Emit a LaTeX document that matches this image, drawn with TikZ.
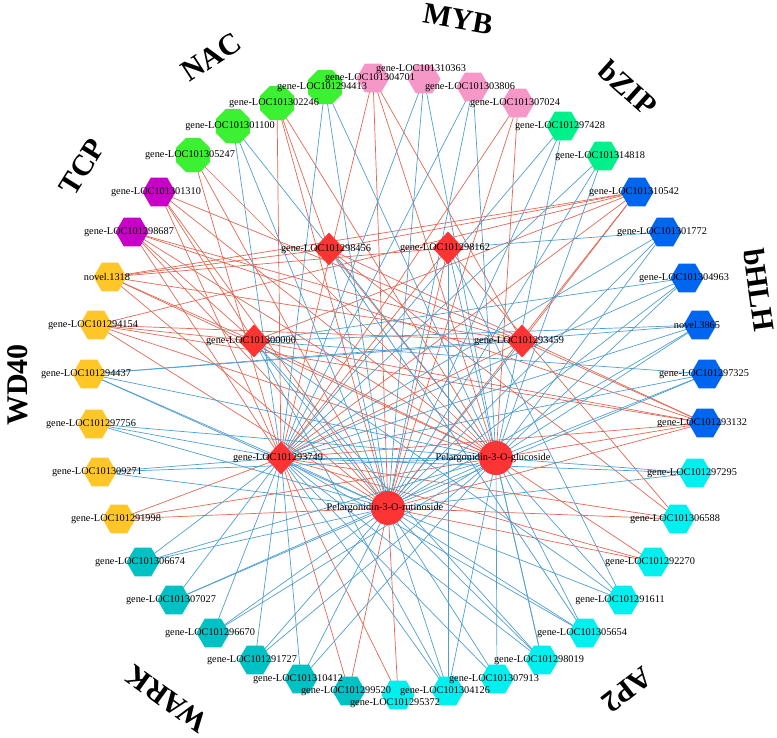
\documentclass[tikz,border=0pt]{standalone}
\usepackage{fontspec}
\setmainfont{Liberation Serif}
\usetikzlibrary{shapes.geometric,backgrounds}

\definecolor{hubred}{RGB}{252,52,52}
\definecolor{negred}{RGB}{226,104,84}
\definecolor{posblue}{RGB}{80,158,210}
\definecolor{nacc}{RGB}{60,240,50}
\definecolor{tcpc}{RGB}{200,0,200}
\definecolor{mybc}{RGB}{245,152,200}
\definecolor{bzipc}{RGB}{0,240,140}
\definecolor{bhlhc}{RGB}{0,102,240}
\definecolor{aptwoc}{RGB}{0,240,240}
\definecolor{warkc}{RGB}{0,194,196}
\definecolor{wdc}{RGB}{255,198,40}

\begin{document}
\begin{tikzpicture}[x=1pt,y=-1pt,
  hexa/.style={regular polygon,regular polygon sides=6,minimum size=33pt,inner sep=0pt},
  octa/.style={regular polygon,regular polygon sides=8,minimum size=37pt,inner sep=0pt,fill=nacc},
  gene node/.style={diamond,fill=hubred,minimum width=31pt,minimum height=33pt,inner sep=0pt},
  met node/.style={circle,fill=hubred,minimum size=34pt,inner sep=0pt},
  lbl/.style={font=\fontsize{10.3}{12}\selectfont,inner sep=0pt,xshift=-3pt},
  fam/.style={font=\fontsize{30}{36}\selectfont\bfseries,inner sep=0pt},
  neglink/.style={draw=negred,line width=0.7pt},
  poslink/.style={draw=posblue,line width=0.7pt}]

  \useasboundingbox (0,0) rectangle (777,737);

  % family titles
  \node[fam,rotate=33] (tnac) at (211,57) {NAC};
  \node[fam,rotate=-10] (tmyb) at (458,19) {MYB};
  \node[fam,rotate=-42] (tbzip) at (628,88) {bZIP};
  \node[fam,rotate=-82] (tbhlh) at (759,290) {bHLH};
  \node[fam,rotate=218] (tap) at (627,690) {AP2};
  \node[fam,rotate=144] (twark) at (167,699) {WARK};
  \node[fam,rotate=90] (twd) at (18,385) {WD40};
  \node[fam,rotate=58] (ttcp) at (82,167) {TCP};

  % inner genes and metabolites
  \node[gene node] (d456) at (329,249) {};
  \node[gene node] (d162) at (448,248) {};
  \node[gene node] (d000) at (254,341) {};
  \node[gene node] (d459) at (522,341) {};
  \node[gene node] (d749) at (281,458) {};
  \node[met node] (glu) at (496,458) {};
  \node[met node] (rut) at (388,508) {};

  % NAC
  \node[octa] (g4413) at (325,87) {};
  \node[octa] (g2246) at (277,103) {};
  \node[octa] (g1100) at (233,126) {};
  \node[octa] (g5247) at (193,155) {};
  % TCP
  \node[hexa,fill=tcpc] (g1310) at (159,192) {};
  \node[hexa,fill=tcpc] (g8687) at (132,232) {};
  % WD40
  \node[hexa,fill=wdc] (nv1318) at (110,277) {};
  \node[hexa,fill=wdc] (g4154) at (96,325) {};
  \node[hexa,fill=wdc] (g4437) at (89,374) {};
  \node[hexa,fill=wdc] (g7756) at (94,424) {};
  \node[hexa,fill=wdc] (g9271) at (100,472) {};
  \node[hexa,fill=wdc] (g1998) at (119,519) {};
  % WARK
  \node[hexa,fill=warkc] (g6674) at (143,562) {};
  \node[hexa,fill=warkc] (g7027) at (174,600) {};
  \node[hexa,fill=warkc] (g6670) at (213,633) {};
  \node[hexa,fill=warkc] (g1727) at (255,660) {};
  \node[hexa,fill=warkc] (g0412) at (301,679) {};
  \node[hexa,fill=warkc] (g9520) at (349,691) {};
  % AP2
  \node[hexa,fill=aptwoc] (g5372) at (398,695) {};
  \node[hexa,fill=aptwoc] (g4126) at (448,691) {};
  \node[hexa,fill=aptwoc] (g7913) at (497,679) {};
  \node[hexa,fill=aptwoc] (g8019) at (542,660) {};
  \node[hexa,fill=aptwoc] (g5654) at (585,633) {};
  \node[hexa,fill=aptwoc] (g1611) at (623,600) {};
  \node[hexa,fill=aptwoc] (g2270) at (653,562) {};
  \node[hexa,fill=aptwoc] (g6588) at (678,519) {};
  \node[hexa,fill=aptwoc] (g7295) at (695,473) {};
  % bHLH
  \node[hexa,fill=bhlhc] (g3132) at (705,423) {};
  \node[hexa,fill=bhlhc] (g7325) at (707,374) {};
  \node[hexa,fill=bhlhc] (nv3865) at (700,325) {};
  \node[hexa,fill=bhlhc] (g4963) at (687,278) {};
  \node[hexa,fill=bhlhc] (g1772) at (665,232) {};
  \node[hexa,fill=bhlhc] (g0542) at (637,192) {};
  % bZIP
  \node[hexa,fill=bzipc] (g4818) at (603,156) {};
  \node[hexa,fill=bzipc] (g7428) at (563,126) {};
  % MYB
  \node[hexa,fill=mybc] (g7024) at (518,103) {};
  \node[hexa,fill=mybc] (g3806) at (473,87) {};
  \node[hexa,fill=mybc] (g0363) at (424,79) {};
  \node[hexa,fill=mybc] (g4701) at (373,78) {};

  % names on top of every shape
  \foreach \n/\t in {d456/gene-LOC101298456, d162/gene-LOC101298162, d000/gene-LOC101300000,
      d459/gene-LOC101293459, d749/gene-LOC101293749,
      glu/Pelargonidin-3-O-glucoside, rut/Pelargonidin-3-O-rutinoside,
      g4413/gene-LOC101294413, g2246/gene-LOC101302246, g1100/gene-LOC101301100, g5247/gene-LOC101305247,
      g1310/gene-LOC101301310, g8687/gene-LOC101298687,
      nv1318/novel.1318, g4154/gene-LOC101294154, g4437/gene-LOC101294437,
      g7756/gene-LOC101297756, g9271/gene-LOC101309271, g1998/gene-LOC101291998,
      g6674/gene-LOC101306674, g7027/gene-LOC101307027, g6670/gene-LOC101296670,
      g1727/gene-LOC101291727, g0412/gene-LOC101310412, g9520/gene-LOC101299520,
      g4126/gene-LOC101304126, g7913/gene-LOC101307913, g8019/gene-LOC101298019,
      g5654/gene-LOC101305654, g1611/gene-LOC101291611, g2270/gene-LOC101292270,
      g6588/gene-LOC101306588, g7295/gene-LOC101297295,
      g3132/gene-LOC101293132, g7325/gene-LOC101297325, nv3865/novel.3865,
      g4963/gene-LOC101304963, g1772/gene-LOC101301772, g0542/gene-LOC101310542,
      g4818/gene-LOC101314818, g7428/gene-LOC101297428,
      g7024/gene-LOC101307024, g3806/gene-LOC101303806, g4701/gene-LOC101304701}
    \node[lbl] (\n-t) at (\n) {\t};
  \node[lbl,yshift=10pt] (g0363-t) at (g0363) {gene-LOC101310363};
  \node[lbl,yshift=-8pt] (g5372-t) at (g5372) {gene-LOC101295372};

  \begin{scope}[on background layer]
  % negative correlations
  \path
   (g2246.center) edge[neglink] (d749.center) edge[neglink] (d456.center) edge[neglink] (glu.center) edge[neglink] (rut.center)
   (g5247.center) edge[neglink] (rut.center) edge[neglink] (glu.center) edge[neglink] (d749.center)
   (g1310.center) edge[neglink] (rut.center) edge[neglink] (glu.center) edge[neglink] (d459.center) edge[neglink] (d000.center) edge[neglink] (d749.center)
   (g8687.center) edge[neglink] (d000.center) edge[neglink] (glu.center) edge[neglink] (d749.center) edge[neglink] (d459.center) edge[neglink] (rut.center) edge[neglink] (g3132.center)
   (nv1318.center) edge[neglink] (d456.center) edge[neglink] (d162.center) edge[neglink] (d000.center) edge[neglink] (d459.center) edge[neglink] (glu.center) edge[neglink] (rut.center) edge[neglink] (g0542.center)
   (g4154.center) edge[neglink] (d000.center) edge[neglink] (glu.center) edge[neglink] (d459.center) edge[neglink] (rut.center) edge[neglink] (g3132.center) edge[neglink] (g0542.center)
   (g1998.center) edge[neglink] (d749.center) edge[neglink] (glu.center) edge[neglink] (rut.center)
   (g9520.center) edge[neglink] (d749.center) edge[neglink] (rut.center)
   (g5372.center) edge[neglink] (rut.center) edge[neglink] (d749.center)
   (g2270.center) edge[neglink] (d749.center) edge[neglink] (glu.center) edge[neglink] (rut.center)
   (g6588.center) edge[neglink] (d749.center) edge[neglink] (rut.center) edge[neglink] (d456.center) edge[neglink] (d162.center)
   (g3132.center) edge[neglink] (d459.center) edge[neglink] (d000.center) edge[neglink] (d456.center) edge[neglink] (glu.center) edge[neglink] (d749.center) edge[neglink] (rut.center)
   (g0542.center) edge[neglink] (d456.center) edge[neglink] (d000.center) edge[neglink] (d749.center) edge[neglink] (d459.center) edge[neglink] (rut.center)
   (g7024.center) edge[neglink] (d749.center) edge[neglink] (glu.center) edge[neglink] (rut.center)
   (g4701.center) edge[neglink] (d749.center) edge[neglink] (rut.center) edge[neglink] (glu.center) edge[neglink] (d459.center)
   (d749.center) edge[neglink] (d459.center) edge[neglink] (d162.center)
   (glu.center) edge[neglink] (d000.center) edge[neglink] (d456.center)
   (rut.center) edge[neglink] (d162.center);
  % positive correlations
  \path
   (g4413.center) edge[poslink] (rut.center) edge[poslink] (glu.center) edge[poslink] (d749.center)
   (g1100.center) edge[poslink] (d749.center) edge[poslink] (glu.center) edge[poslink] (rut.center)
   (g4437.center) edge[poslink] (d749.center) edge[poslink] (glu.center) edge[poslink] (d459.center) edge[poslink] (rut.center) edge[poslink] (nv3865.center)
   (g7756.center) edge[poslink] (d749.center) edge[poslink] (glu.center) edge[poslink] (rut.center)
   (g9271.center) edge[poslink] (d749.center) edge[poslink] (rut.center) edge[poslink] (glu.center)
   (g6674.center) edge[poslink] (rut.center) edge[poslink] (glu.center) edge[poslink] (d749.center)
   (g7027.center) edge[poslink] (d749.center) edge[poslink] (rut.center) edge[poslink] (glu.center)
   (g6670.center) edge[poslink] (d749.center) edge[poslink] (rut.center) edge[poslink] (glu.center)
   (g1727.center) edge[poslink] (d749.center) edge[poslink] (rut.center) edge[poslink] (glu.center)
   (g0412.center) edge[poslink] (d749.center) edge[poslink] (rut.center) edge[poslink] (glu.center)
   (g4126.center) edge[poslink] (d162.center) edge[poslink] (glu.center) edge[poslink] (d000.center) edge[poslink] (rut.center) edge[poslink] (d749.center)
   (g7913.center) edge[poslink] (glu.center) edge[poslink] (d749.center) edge[poslink] (rut.center)
   (g8019.center) edge[poslink] (glu.center) edge[poslink] (rut.center) edge[poslink] (d000.center) edge[poslink] (d162.center) edge[poslink] (d749.center)
   (g5654.center) edge[poslink] (rut.center) edge[poslink] (glu.center) edge[poslink] (d456.center) edge[poslink] (d749.center)
   (g1611.center) edge[poslink] (d000.center) edge[poslink] (glu.center) edge[poslink] (d162.center) edge[poslink] (rut.center)
   (g7295.center) edge[poslink] (glu.center) edge[poslink] (rut.center) edge[poslink] (d749.center)
   (g7325.center) edge[poslink] (d749.center) edge[poslink] (rut.center) edge[poslink] (glu.center) edge[poslink] (d000.center)
   (nv3865.center) edge[poslink] (d749.center) edge[poslink] (rut.center) edge[poslink] (glu.center) edge[poslink] (d000.center)
   (g4963.center) edge[poslink] (d749.center) edge[poslink] (rut.center) edge[poslink] (glu.center) edge[poslink] (d000.center)
   (g1772.center) edge[poslink] (d749.center) edge[poslink] (rut.center) edge[poslink] (glu.center) edge[poslink] (d162.center)
   (g4818.center) edge[poslink] (d749.center) edge[poslink] (rut.center) edge[poslink] (glu.center)
   (g7428.center) edge[poslink] (d749.center) edge[poslink] (rut.center) edge[poslink] (glu.center)
   (g3806.center) edge[poslink] (d749.center) edge[poslink] (rut.center) edge[poslink] (glu.center)
   (g0363.center) edge[poslink] (rut.center) edge[poslink] (glu.center) edge[poslink] (d749.center)
   (d749.center) edge[poslink] (glu.center) edge[poslink] (rut.center)
   (d000.center) edge[poslink] (rut.center)
   (d459.center) edge[poslink] (rut.center)
   (d456.center) edge[poslink] (rut.center);
  \end{scope}

\end{tikzpicture}
\end{document}
